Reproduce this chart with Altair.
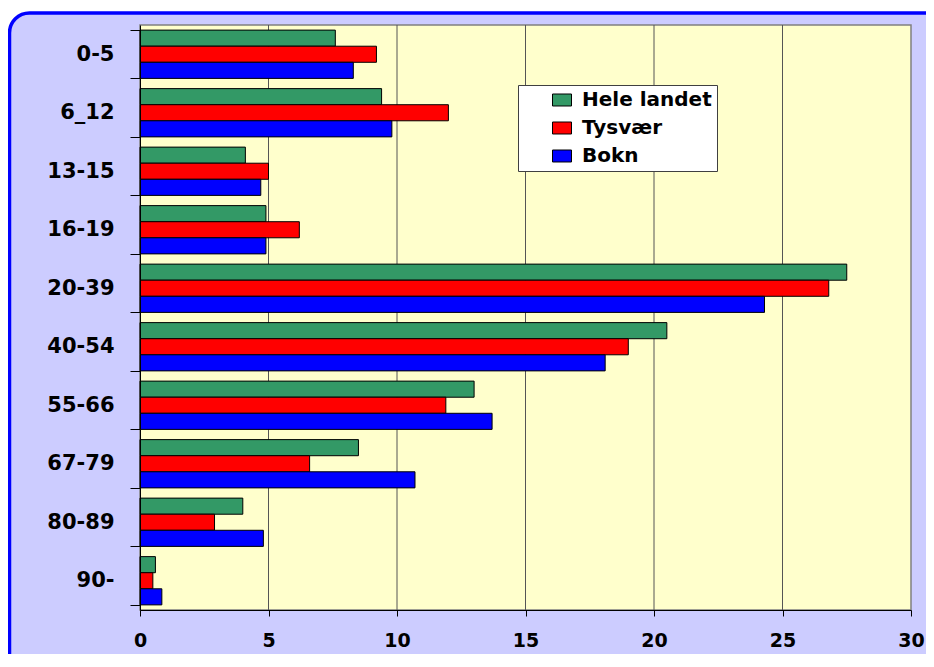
import altair as alt
import pandas as pd

categories = ["0-5", "6_12", "13-15", "16-19", "20-39", "40-54", "55-66", "67-79", "80-89", "90-"]
series = ["Hele landet", "Tysvær", "Bokn"]
hele_landet = [7.6, 9.4, 4.1, 4.9, 27.5, 20.5, 13.0, 8.5, 4.0, 0.6]
tysvaer = [9.2, 12.0, 5.0, 6.2, 26.8, 19.0, 11.9, 6.6, 2.9, 0.5]
bokn = [8.3, 9.8, 4.7, 4.9, 24.3, 18.1, 13.7, 10.7, 4.8, 0.85]
x_ticks = [0, 5, 10, 15, 20, 25, 30]
colors = ["#339966", "#FF0000", "#0000FF"]

rows = []
for name, vals in zip(series, [hele_landet, tysvaer, bokn]):
    for c, v in zip(categories, vals):
        rows.append({"alder": c, "serie": name, "verdi": v})
df = pd.DataFrame(rows)

W, H = 771, 585
FONT = "DejaVu Sans"

xscale = alt.Scale(domain=[0, 30], nice=False, zero=True)

frame = alt.Chart(pd.DataFrame({"k": [0]})).mark_rect(
    cornerRadius=20, fill="#CCCCFF", stroke="#0000FF", strokeWidth=3.5
).encode(
    x=alt.value(-130.5), x2=alt.value(W + 60),
    y=alt.value(-12), y2=alt.value(H + 120)
)

plot_bg = alt.Chart(pd.DataFrame({"k": [0]})).mark_rect(
    fill="#FFFFCC", stroke="#808080", strokeWidth=1.5
).encode(
    x=alt.value(0), x2=alt.value(W), y=alt.value(0), y2=alt.value(H)
)

grid = alt.Chart(pd.DataFrame({"v": x_ticks[1:-1]})).mark_rule(
    color="#555555", strokeWidth=1
).encode(
    x=alt.X("v:Q", scale=xscale)
)

bars = alt.Chart(df).mark_bar(stroke="black", strokeWidth=1).encode(
    y=alt.Y(
        "alder:N", sort=categories,
        scale=alt.Scale(paddingInner=0.175, paddingOuter=0.0875),
        axis=alt.Axis(
            title=None, tickBand="extent", tickSize=10, tickColor="black",
            domainColor="black", labelFont=FONT, labelFontSize=21,
            labelFontWeight="bold", labelColor="black", labelPadding=16,
            zindex=1, grid=False
        ),
    ),
    yOffset=alt.YOffset("serie:N", sort=series,
                        scale=alt.Scale(paddingInner=0, paddingOuter=0)),
    x=alt.X(
        "verdi:Q", scale=xscale,
        axis=alt.Axis(
            title=None, values=x_ticks, tickSize=6, tickColor="black",
            domainColor="black", labelFont=FONT, labelFontSize=19,
            labelFontWeight="bold", labelColor="black", labelPadding=15,
            zindex=1, grid=False, labelFlush=False
        ),
    ),
    color=alt.Color(
        "serie:N", sort=series,
        scale=alt.Scale(domain=series, range=colors),
        legend=alt.Legend(
            title=None, orient="none", legendX=378, legendY=60,
            fillColor="white", strokeColor="#404040", padding=5,
            symbolType="M-1,-0.63H1V0.63H-1Z", symbolSize=361,
            symbolStrokeColor="black", symbolStrokeWidth=1,
            symbolOffset=29, labelOffset=10,
            labelFont=FONT, labelFontSize=20, labelFontWeight="bold",
            labelColor="black", rowPadding=8
        ),
    ),
)

chart = alt.layer(frame, plot_bg, grid, bars).properties(
    width=W, height=H,
    autosize=alt.AutoSizeParams(type="none"),
    padding={"left": 132, "top": 17, "right": 15, "bottom": 44},
    background="white",
).configure_view(strokeWidth=0)

chart.save("out.html", embed_options={"renderer": "svg", "actions": False})
